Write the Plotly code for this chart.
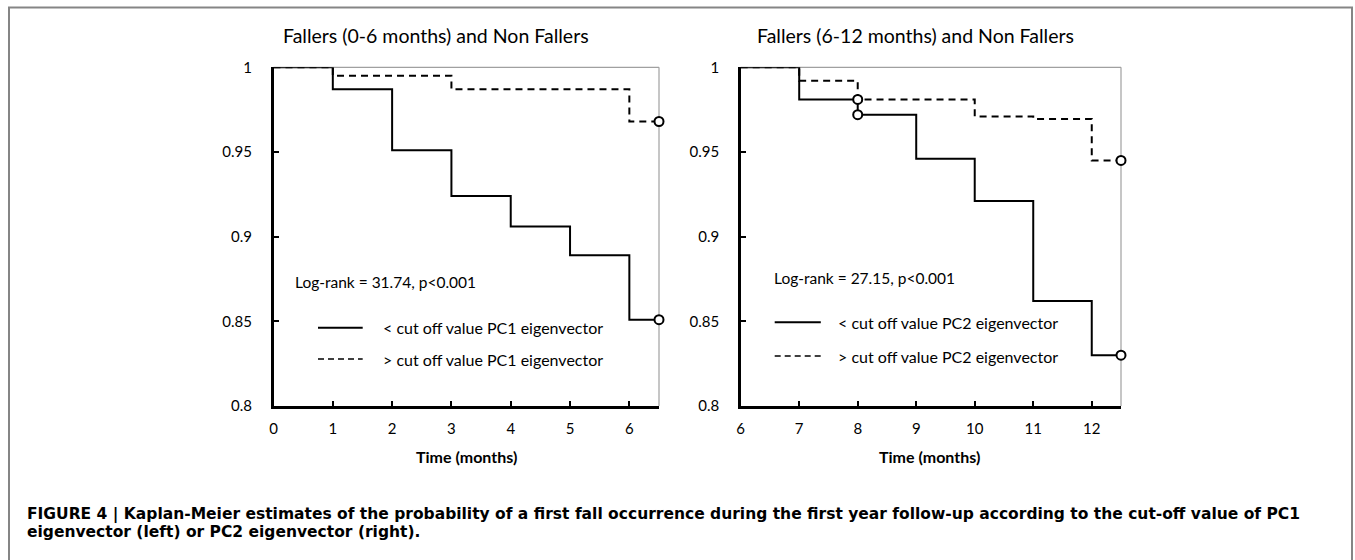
import plotly.graph_objects as go

W, H = 1355, 560

# ---- data ----
left_low_t = [0, 1, 2, 3, 4, 5, 6, 6.5]
left_low_s = [1.0, 0.987, 0.951, 0.924, 0.906, 0.889, 0.851, 0.851]
left_high_t = [0, 1, 3, 6, 6.5]
left_high_s = [1.0, 0.995, 0.987, 0.968, 0.968]
left_cens_low_t = [6.5]
left_cens_low_s = [0.851]
left_cens_high_t = [6.5]
left_cens_high_s = [0.968]

right_low_t = [6, 7, 8, 9, 10, 11, 12, 12.5]
right_low_s = [1.0, 0.981, 0.972, 0.946, 0.921, 0.862, 0.830, 0.830]
right_high_t = [6, 7, 8, 10, 11, 12, 12.5]
right_high_s = [1.0, 0.992, 0.981, 0.971, 0.9695, 0.945, 0.945]
right_cens_low_t = [8, 12.5]
right_cens_low_s = [0.972, 0.830]
right_cens_high_t = [8, 12.5]
right_cens_high_s = [0.981, 0.945]

left_xticks = [0, 1, 2, 3, 4, 5, 6]
right_xticks = [6, 7, 8, 9, 10, 11, 12]
y_ticks = [0.8, 0.85, 0.9, 0.95, 1.0]
y_ticktext = ["0.8", "0.85", "0.9", "0.95", "1"]

titles = ["Fallers (0-6 months) and Non Fallers", "Fallers (6-12 months) and Non Fallers"]
logranks = ["Log-rank = 31.74, p<0.001", "Log-rank = 27.15, p<0.001"]
legend_low = ["< cut off value PC1 eigenvector", "< cut off value PC2 eigenvector"]
legend_high = ["> cut off value PC1 eigenvector", "> cut off value PC2 eigenvector"]
xtitle = "Time (months)"
caption1 = ("FIGURE 4 | Kaplan-Meier estimates of the probability of a first fall occurrence during the "
            "first year follow-up according to the cut-off value of PC1")
caption2 = "eigenvector (left) or PC2 eigenvector (right)."

FONT = "Lato"
CAP_FONT = "DejaVu Sans"
DASH = "7px,5px"

def px(x):
    return x / W

def py(y):
    return 1 - y / H

fig = go.Figure()

def add_panel(xa, ya, lt, ls, ht, hs, clt, cls, cht, chs):
    fig.add_trace(go.Scatter(x=lt, y=ls, mode="lines", line=dict(color="black", width=2, shape="hv"),
                             xaxis=xa, yaxis=ya, cliponaxis=False, showlegend=False, hoverinfo="skip"))
    fig.add_trace(go.Scatter(x=ht, y=hs, mode="lines", line=dict(color="black", width=2, shape="hv", dash=DASH),
                             xaxis=xa, yaxis=ya, cliponaxis=False, showlegend=False, hoverinfo="skip"))
    fig.add_trace(go.Scatter(x=clt + cht, y=cls + chs, mode="markers",
                             marker=dict(symbol="circle", size=9, color="white", line=dict(color="black", width=2)),
                             xaxis=xa, yaxis=ya, cliponaxis=False, showlegend=False, hoverinfo="skip"))

add_panel("x", "y", left_low_t, left_low_s, left_high_t, left_high_s,
          left_cens_low_t, left_cens_low_s, left_cens_high_t, left_cens_high_s)
add_panel("x2", "y2", right_low_t, right_low_s, right_high_t, right_high_s,
          right_cens_low_t, right_cens_low_s, right_cens_high_t, right_cens_high_s)

ydom = [py(406), py(67.3)]
axis_common = dict(showgrid=False, zeroline=False, showline=True, linecolor="black", linewidth=2.5,
                   ticks="inside", ticklen=5, tickwidth=2, tickcolor="black", automargin=False,
                   tickfont=dict(family=FONT, size=15, color="black"))

fig.update_layout(
    template="none",
    width=W, height=H, margin=dict(l=0, r=0, t=0, b=0, pad=0), autosize=False,
    paper_bgcolor="white", plot_bgcolor="white", showlegend=False,
    xaxis=dict(domain=[px(273.5), px(659)], range=[0, 6.5], tickvals=left_xticks, anchor="y",
               ticklabelstandoff=7, **axis_common),
    yaxis=dict(domain=ydom, range=[0.8, 1.0], tickvals=y_ticks, ticktext=y_ticktext, anchor="x",
               ticklabelstandoff=16, **axis_common),
    xaxis2=dict(domain=[px(740.7), px(1121)], range=[6, 12.5], tickvals=right_xticks, anchor="y2",
                ticklabelstandoff=7, **axis_common),
    yaxis2=dict(domain=ydom, range=[0.8, 1.0], tickvals=y_ticks, ticktext=y_ticktext, anchor="x2",
                ticklabelstandoff=16, **axis_common),
)

shapes = []
# thin grey top/right frame for each panel
for xr, yr in [("x domain", "y domain"), ("x2 domain", "y2 domain")]:
    shapes.append(dict(type="line", xref=xr, yref=yr, x0=0, x1=1, y0=1, y1=1, line=dict(color="#a0a0a0", width=1.2), layer="below"))
    shapes.append(dict(type="line", xref=xr, yref=yr, x0=1, x1=1, y0=0, y1=1, line=dict(color="#a0a0a0", width=1.2), layer="below"))

# legend samples
for (x0, x1, ys, yd) in [(318, 362.7, 327.7, 359), (774.7, 820.8, 322.3, 356)]:
    shapes.append(dict(type="line", xref="paper", yref="paper", x0=px(x0), x1=px(x1), y0=py(ys), y1=py(ys),
                       line=dict(color="black", width=2)))
    shapes.append(dict(type="line", xref="paper", yref="paper", x0=px(x0), x1=px(x1), y0=py(yd), y1=py(yd),
                       line=dict(color="black", width=1.6, dash="6px,4px")))

# outer border
shapes.append(dict(type="rect", xref="paper", yref="paper", x0=px(9), x1=px(1352), y0=-0.1, y1=py(7.5),
                   line=dict(color="#858585", width=2), fillcolor="rgba(0,0,0,0)"))
fig.update_layout(shapes=shapes)

ann = []
def text(x, y, s, size=15, bold=False, family=FONT, xanchor="left"):
    ann.append(dict(xref="paper", yref="paper", x=px(x), y=py(y), text=("<b>%s</b>" % s) if bold else s,
                    showarrow=False, xanchor=xanchor, yanchor="middle",
                    font=dict(family=family, size=size, color="black")))

text(436, 35, titles[0], size=19.5, xanchor="center")
text(916, 35, titles[1], size=19.5, xanchor="center")
text(292.7, 281.7, logranks[0], size=15.5)
text(771.7, 277.7, logranks[1], size=15.5)
text(380.7, 327, legend_low[0], size=16)
text(380.7, 359, legend_high[0], size=16)
text(835.8, 322.3, legend_low[1], size=16)
text(835.8, 356, legend_high[1], size=16)
text(466, 456.7, xtitle, size=16, bold=True, xanchor="center")
text(929, 456.7, xtitle, size=16, bold=True, xanchor="center")
text(25, 514, caption1, size=15.5, bold=True, family=CAP_FONT)
text(25, 532, caption2, size=15.5, bold=True, family=CAP_FONT)
fig.update_layout(annotations=ann)

fig.write_html("out.html", config={"displayModeBar": False, "staticPlot": True},
               post_script="document.body.style.margin='0px';document.body.style.overflow='hidden';")
